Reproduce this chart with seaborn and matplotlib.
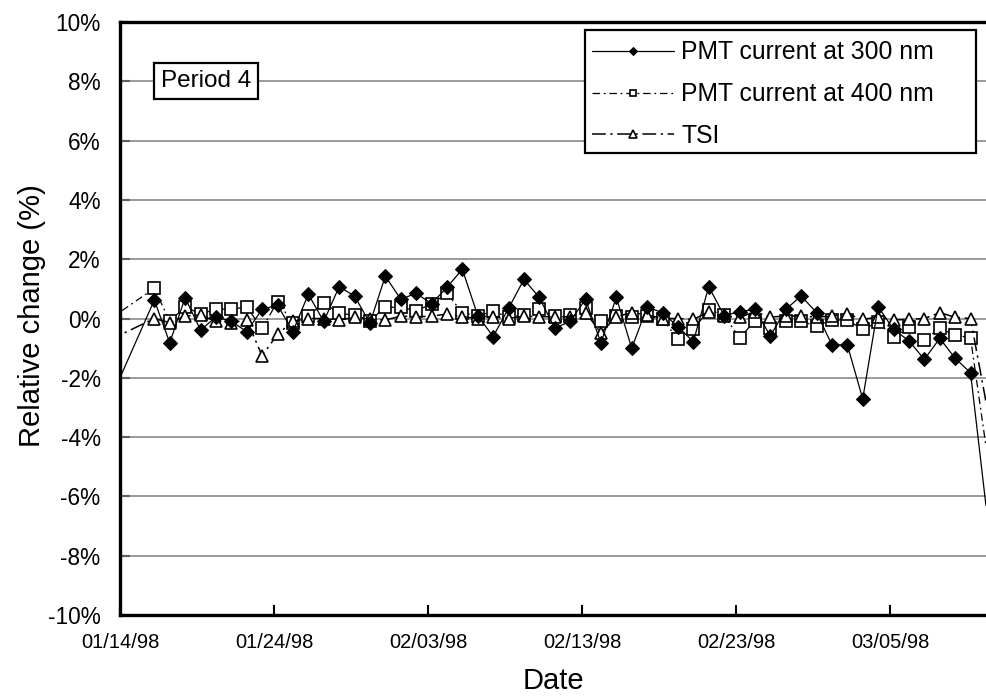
import numpy as np
import pandas as pd
import matplotlib
matplotlib.use("Agg")
import matplotlib.pyplot as plt
import matplotlib.dates as mdates
from matplotlib.patches import Rectangle
import seaborn as sns

# ---------------- data ----------------
dates = (["1998-01-13 05:30"]
         + [d.strftime("%Y-%m-%d %H:%M") for d in pd.date_range("1998-01-16 05:30", "1998-03-10 05:30", freq="D")]
         + ["1998-03-11 05:30"])

pmt300 = [-2.9,
          0.62, -0.82, 0.70, -0.39, 0.05, -0.10, -0.44, 0.31, 0.45, -0.44,
          0.82, -0.10, 1.07, 0.76, -0.16, 1.43, 0.65, 0.85, 0.50, 1.05,
          1.66, 0.10, -0.61, 0.34, 1.32, 0.71, -0.33, -0.10, 0.65, -0.82,
          0.71, -1.00, 0.38, 0.20, -0.28, -0.78, 1.07, 0.10, 0.23, 0.31,
          -0.59, 0.31, 0.76, 0.20, -0.89, -0.89, -2.71, 0.40, -0.37, -0.75,
          -1.38, -0.67, -1.34, -1.83,
          -6.3]
pmt400 = [-0.06,
          1.02, -0.10, 0.40, 0.15, 0.31, 0.32, 0.38, -0.33, 0.57, -0.15,
          0.08, 0.53, 0.17, 0.12, -0.07, 0.38, 0.38, 0.26, 0.49, 0.85,
          0.20, 0.08, 0.25, 0.04, 0.12, 0.31, 0.08, 0.12, 0.34, -0.08,
          0.08, 0.04, 0.08, -0.02, -0.70, -0.37, 0.29, 0.12, -0.67, -0.07,
          -0.33, -0.07, -0.10, -0.25, -0.05, -0.05, -0.37, -0.12, -0.64, -0.30,
          -0.72, -0.33, -0.56, -0.65,
          -4.3]
tsi = [-0.75,
       0.00, -0.14, 0.08, 0.12, -0.10, -0.14, -0.05, -1.26, -0.53, -0.10,
       0.00, 0.00, -0.05, 0.04, -0.03, -0.05, 0.08, 0.06, 0.08, 0.15,
       0.06, 0.00, 0.06, 0.00, 0.08, 0.06, 0.06, 0.06, 0.20, -0.48,
       0.06, 0.20, 0.12, 0.00, 0.00, -0.03, 0.22, 0.08, 0.04, 0.23,
       0.05, 0.08, 0.08, 0.05, 0.08, 0.15, -0.03, 0.05, -0.05, -0.03,
       0.00, 0.20, 0.04, 0.00,
       -2.8]

series_labels = ["PMT current at 300 nm", "PMT current at 400 nm", "TSI"]
xtick_dates = ["1998-01-14", "1998-01-24", "1998-02-03", "1998-02-13", "1998-02-23", "1998-03-05"]
yticks = [-10, -8, -6, -4, -2, 0, 2, 4, 6, 8, 10]
xlabel = "Date"
ylabel = "Relative change (%)"
period_text = "Period 4"

df = pd.DataFrame({"date": pd.to_datetime(dates), "p300": pmt300, "p400": pmt400, "tsi": tsi})

# ---------------- style ----------------
sns.set_theme(style="white")
plt.rcParams["font.family"] = ["Liberation Sans", "DejaVu Sans"]

W, H = 986, 698
fig = plt.figure(figsize=(W / 100, H / 100), dpi=100)
x0_px, y_top_px, y_bot_px = 120, 22, 615
xmin = pd.Timestamp("1998-01-14")
xmax = pd.Timestamp("1998-03-12")
px_per_day = 15.4
ax_w_px = (xmax - xmin).days * px_per_day
ax = fig.add_axes([x0_px / W, (H - y_bot_px) / H, ax_w_px / W, (y_bot_px - y_top_px) / H])

inner = list(range(1, len(dates) - 1))

sns.lineplot(data=df, x="date", y="p300", ax=ax, color="black", linewidth=0.9,
             marker="D", markersize=7, markerfacecolor="black", markeredgecolor="black",
             markevery=inner, label=series_labels[0], sort=False, zorder=4)
sns.lineplot(data=df, x="date", y="p400", ax=ax, color="black", linewidth=0.9,
             linestyle=(0, (6, 3, 1.5, 3)),
             marker="s", markersize=8.3, markerfacecolor="white", markeredgecolor="black",
             markeredgewidth=1.2, markevery=inner, label=series_labels[1], sort=False, zorder=3)
sns.lineplot(data=df, x="date", y="tsi", ax=ax, color="black", linewidth=1.1,
             linestyle=(0, (9, 3, 1.5, 3)),
             marker="^", markersize=8.7, markerfacecolor="white", markeredgecolor="black",
             markeredgewidth=1.2, markevery=inner, label=series_labels[2], sort=False, zorder=3.5)

ax.set_xlim(xmin, xmax)
ax.set_ylim(-10, 10)
ax.set_yticks(yticks)
ax.set_yticklabels([f"{v:d}%" for v in yticks])
ax.set_xticks(pd.to_datetime(xtick_dates))
ax.xaxis.set_major_formatter(mdates.DateFormatter("%m/%d/%y"))

ax.grid(False)
for v in yticks[1:-1]:
    ax.axhline(v, color="#7f7f7f", linewidth=1.1, zorder=1)

for s in ["left", "bottom", "top"]:
    ax.spines[s].set_visible(True)
    ax.spines[s].set_color("black")
    ax.spines[s].set_linewidth(2.4)
ax.spines["right"].set_visible(False)

ax.tick_params(axis="y", direction="in", length=7, width=1.5, labelsize=16.3, pad=14, colors="black", left=True)
ax.tick_params(axis="x", direction="in", length=7, width=1.5, labelsize=14.5, pad=13, colors="black", bottom=True)

ax.set_xlabel(xlabel, fontsize=21, color="black")
ax.set_ylabel(ylabel, fontsize=21, color="black")
ax.xaxis.set_label_coords((553 - x0_px) / ax_w_px, -(667 - y_bot_px) / (y_bot_px - y_top_px))
ax.yaxis.set_label_coords((46 - x0_px) / ax_w_px, 0.505)

# legend: content without frame + fixed rectangular frame as in the reference
frame = Rectangle((585 / W, 1 - 153 / H), (976 - 585) / W, (153 - 30) / H, transform=fig.transFigure,
                  facecolor="white", edgecolor="black", linewidth=1.6, zorder=9, clip_on=False)
ax.add_patch(frame)
leg = ax.legend(loc="upper left", bbox_to_anchor=(585 / W, 1 - 33 / H), bbox_transform=fig.transFigure,
                borderaxespad=0, fontsize=17.8, frameon=False,
                markerscale=0.6, handlelength=3.3, handletextpad=0.3, labelspacing=0.72,
                borderpad=0.3)
leg.set_zorder(10)
for t in leg.get_texts():
    t.set_color("black")

fig.text(206 / W, 1 - 81 / H, period_text, ha="center", va="center", fontsize=17.5, color="black",
         bbox=dict(boxstyle="square,pad=0.3", facecolor="white", edgecolor="black", linewidth=1.6),
         zorder=10)

fig.savefig("out.png", dpi=100)
